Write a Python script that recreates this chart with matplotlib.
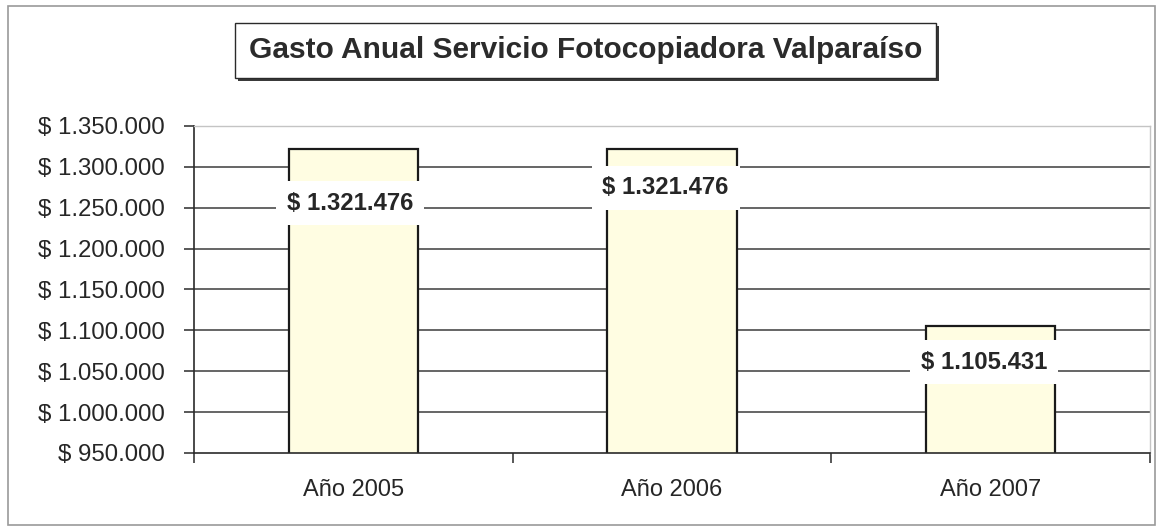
import matplotlib
matplotlib.use("Agg")
import matplotlib.pyplot as plt
from matplotlib.patches import Rectangle
from matplotlib.ticker import FixedLocator, FuncFormatter

# Data
years = ["Año 2005", "Año 2006", "Año 2007"]
gasto = [1321476, 1321476, 1105431]
y_ticks = [950000, 1000000, 1050000, 1100000, 1150000, 1200000, 1250000, 1300000, 1350000]
title = "Gasto Anual Servicio Fotocopiadora Valparaíso"

# Where each value label sits (category offset, height in axis units)
label_dx = [-0.01, -0.02, -0.02]
label_y = [1255800, 1274200, 1061300]

FONT = "Liberation Sans"
TXT = "#262626"


def pesos(v, _=None):
    return "$ " + f"{int(round(v)):,}".replace(",", ".")


W, H = 1158, 531
fig = plt.figure(figsize=(W / 100, H / 100), dpi=100)
fig.patch.set_facecolor("white")

# Outer chart frame
fig.add_artist(Rectangle((8 / W, 1 - 525 / H), (1155 - 8) / W, (525 - 6) / H,
                         transform=fig.transFigure, fill=False,
                         edgecolor="#9a9a9a", lw=1.2))

ax = fig.add_axes([194 / W, 1 - 453 / H, (1150 - 194) / W, (453 - 126) / H])
x = list(range(len(years)))

ax.set_xlim(-0.5, len(years) - 0.5)
ax.set_ylim(y_ticks[0], y_ticks[-1])

# Horizontal gridlines (inner ticks only; top edge is the plot frame)
for t in y_ticks[1:-1]:
    ax.axhline(t, color="#3c3c3c", lw=1.1, zorder=1)

ax.bar(x, gasto, width=0.405, color="#fffde2", edgecolor="#1a1a1a",
       linewidth=1.6, zorder=2)

for xi, v, dx, ly in zip(x, gasto, label_dx, label_y):
    ax.text(xi + dx, ly, pesos(v), ha="center", va="center",
            fontsize=17.2, fontweight="bold", family=FONT, color=TXT,
            zorder=4,
            bbox=dict(boxstyle="square,pad=0.45", facecolor="white",
                      edgecolor="none"))

# Spines: dark axes, light frame on top/right
for s in ("top", "right"):
    ax.spines[s].set_color("#c4c4c4")
    ax.spines[s].set_linestyle((0, (2, 1)))
    ax.spines[s].set_linewidth(1.0)
for s in ("left", "bottom"):
    ax.spines[s].set_color("#2a2a2a")
    ax.spines[s].set_linewidth(1.2)

ax.yaxis.set_major_locator(FixedLocator(y_ticks))
ax.yaxis.set_major_formatter(FuncFormatter(pesos))
ax.tick_params(axis="y", direction="out", length=7, width=1.1,
               color="#2a2a2a", pad=14, labelsize=17.3, labelcolor=TXT)

# Category boundaries carry the tick marks; names sit between them
ax.xaxis.set_major_locator(FixedLocator([-0.5, 0.5, 1.5, 2.5]))
ax.xaxis.set_major_formatter(FuncFormatter(lambda v, p: ""))
ax.xaxis.set_minor_locator(FixedLocator(x))
ax.set_xticks(x, years, minor=True)
ax.tick_params(axis="x", which="major", direction="out", length=7,
               width=1.1, color="#2a2a2a")
ax.tick_params(axis="x", which="minor", length=0, pad=19, labelsize=17,
               labelcolor=TXT)
for lab in ax.get_yticklabels() + ax.get_xticklabels(minor=True):
    lab.set_family(FONT)

# Title box with drop shadow
bx0, by0, bx1, by1 = 235, 23, 936, 78
fig.add_artist(Rectangle(((bx0 + 3) / W, 1 - (by1 + 3) / H), (bx1 - bx0) / W,
                         (by1 - by0) / H, transform=fig.transFigure,
                         facecolor="#3a3a3a", edgecolor="none"))
fig.add_artist(Rectangle((bx0 / W, 1 - by1 / H), (bx1 - bx0) / W,
                         (by1 - by0) / H, transform=fig.transFigure,
                         facecolor="white", edgecolor="#2a2a2a", lw=1.0))
fig.text(585.5 / W, 1 - 50 / H, title, ha="center", va="center",
         fontsize=21.5, fontweight="bold", family=FONT, color="#2b2b2b")

fig.savefig("out.png", dpi=100, facecolor="white")
